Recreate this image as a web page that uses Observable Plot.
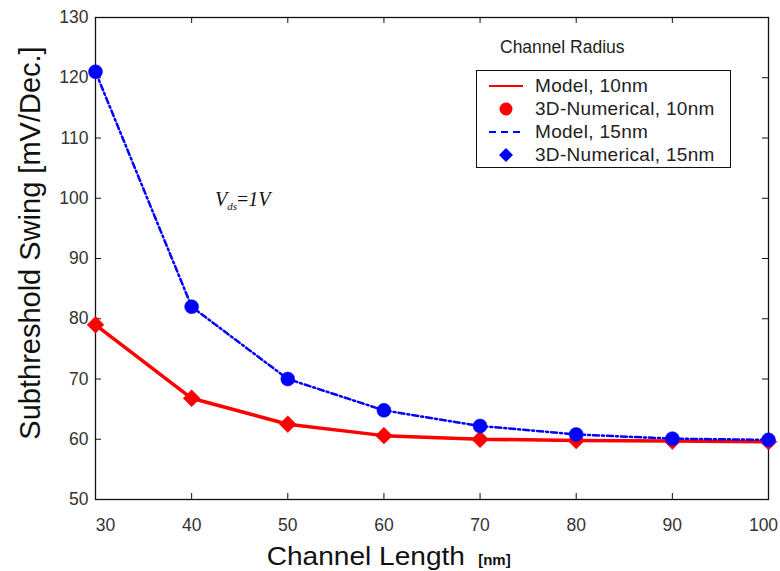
<!DOCTYPE html>
<html><head><meta charset="utf-8">
<script src="https://cdn.jsdelivr.net/npm/d3@7"></script>
<script src="https://cdn.jsdelivr.net/npm/@observablehq/plot@0.6"></script>
<style>
body{margin:0;background:#fff;}
#wrap{position:relative;width:780px;height:571px;font-family:Arial,"Liberation Sans",sans-serif;}
.ov{position:absolute;white-space:nowrap;}
</style></head><body>
<div id="wrap"></div>
<script>
const channelLength = [30, 40, 50, 60, 70, 80, 90, 100];
const swing10 = [79.0, 66.8, 62.5, 60.6, 60.0, 59.8, 59.7, 59.6];
const swing15 = [121.0, 82.0, 70.0, 64.8, 62.2, 60.8, 60.1, 59.9];
const xTicks = [30, 40, 50, 60, 70, 80, 90, 100];
const yTicks = [50, 60, 70, 80, 90, 100, 110, 120, 130];
const legendItems = ["Model, 10nm", "3D-Numerical, 10nm", "Model, 15nm", "3D-Numerical, 15nm"];

const d10 = channelLength.map((x, i) => ({x, y: swing10[i]}));
const d15 = channelLength.map((x, i) => ({x, y: swing15[i]}));

const W = 780, H = 571, mL = 95, mR = 12, mT = 17, mB = 72;
const innerW = W - mL - mR, innerH = H - mT - mB, tk = 6;

const plot = Plot.plot({
  width: W, height: H,
  marginLeft: mL, marginRight: mR, marginTop: mT, marginBottom: mB,
  style: {fontFamily: "Arial, 'Liberation Sans', sans-serif", fontSize: "17.5px", color: "#333", background: "#fff", overflow: "visible"},
  x: {domain: [30, 100]},
  y: {domain: [50, 130]},
  marks: [
    Plot.frame({stroke: "#111", strokeWidth: 1.3}),
    // inward ticks
    Plot.tickX(xTicks, {x: d => d, stroke: "#111", insetTop: innerH - tk}),
    Plot.tickX(xTicks, {x: d => d, stroke: "#111", insetBottom: innerH - tk}),
    Plot.tickY(yTicks, {y: d => d, stroke: "#111", insetRight: innerW - tk}),
    Plot.tickY(yTicks, {y: d => d, stroke: "#111", insetLeft: innerW - tk}),
    // tick labels
    Plot.axisX(xTicks.slice(0, 1), {anchor: "bottom", tickSize: 0, tickPadding: 19, dx: 10, label: null}),
    Plot.axisX(xTicks.slice(1, -1), {anchor: "bottom", tickSize: 0, tickPadding: 19, label: null}),
    Plot.axisX(xTicks.slice(-1), {anchor: "bottom", tickSize: 0, tickPadding: 19, dx: -5, label: null}),
    Plot.axisY(yTicks, {anchor: "left", tickSize: 0, tickPadding: 7, label: null}),
    Plot.line(d10, {x: "x", y: "y", stroke: "#ff0000", strokeWidth: 3.5}),
    Plot.line(d15, {x: "x", y: "y", stroke: "#0000ff", strokeWidth: 2.5, strokeDasharray: "6,3,2,3"}),
    Plot.dot(d10, {x: "x", y: "y", symbol: "diamond2", r: 7.6, fill: "#ff0000", stroke: "#ff0000", strokeWidth: 0.5}),
    Plot.dot(d15, {x: "x", y: "y", symbol: "circle", r: 7, fill: "#0000ff", stroke: "#0000ff", strokeWidth: 0.5})
  ]
});
const wrap = document.getElementById("wrap");
wrap.appendChild(plot);

function ov(html, css){const d=document.createElement("div");d.className="ov";d.innerHTML=html;d.style.cssText+=css;wrap.appendChild(d);return d;}

ov("Subthreshold Swing [mV/Dec.]", "left:30px;top:243px;font-size:29px;color:#111;transform:translate(-50%,-50%) rotate(-90deg);");
ov('<span style="display:inline-block;transform:scaleX(1.08);transform-origin:right center">Channel Length</span> <span style="font-size:15px;font-weight:bold;margin-left:6px">[nm]</span>', "left:396px;top:556px;font-size:26px;color:#111;transform:translate(-50%,-50%);");
ov('<i>V</i><sub style="font-size:11px;font-style:italic;vertical-align:-4px">ds</sub>=<i>1V</i>', "left:215px;top:188px;font-family:'Liberation Serif','Times New Roman',serif;font-size:20px;color:#111;");
ov("Channel Radius", "left:500px;top:37px;font-size:17.5px;color:#222;");

const sw = [
  '<svg width="40" height="16"><line x1="2" y1="8" x2="36" y2="8" stroke="#f00" stroke-width="2"/></svg>',
  '<svg width="40" height="16"><circle cx="19" cy="8" r="6.5" fill="#f00"/></svg>',
  '<svg width="40" height="16"><line x1="2" y1="8" x2="35" y2="8" stroke="#00f" stroke-width="2" stroke-dasharray="7,5"/></svg>',
  '<svg width="40" height="16"><path d="M19,1 L26,8 L19,15 L12,8Z" fill="#00f"/></svg>'
];
ov(legendItems.map((t,i)=>`<div style="display:flex;align-items:center;height:23px;"><span style="width:48px;display:inline-block;padding-left:10px;line-height:0">${sw[i]}</span><span>${t}</span></div>`).join(""),
  "left:476px;top:70px;width:255px;height:98px;border:1.3px solid #111;font-size:19px;letter-spacing:0.3px;color:#222;padding-top:3px;box-sizing:border-box;background:#fff;");
</script>
</body></html>
